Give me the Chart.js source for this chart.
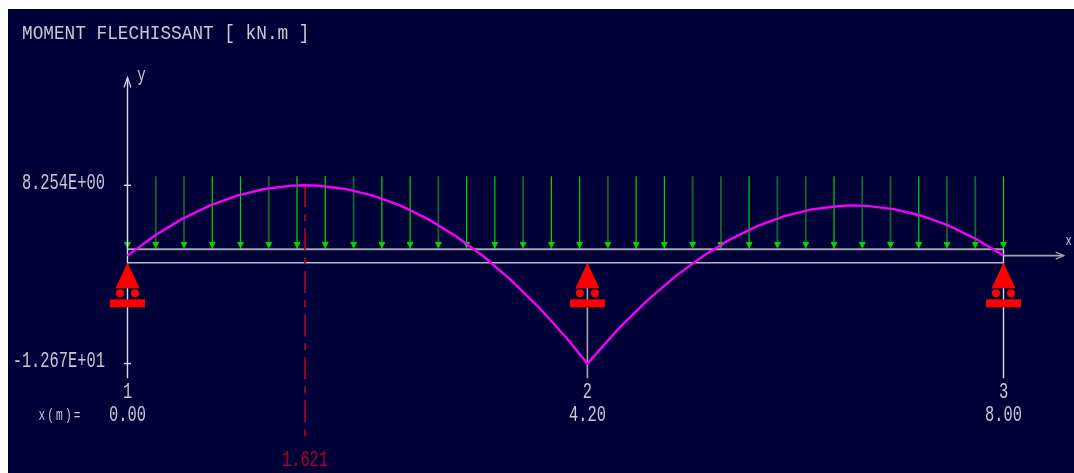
<!DOCTYPE html>
<html><head><meta charset="utf-8">
<style>html,body{margin:0;padding:0;background:#fff;overflow:hidden}
canvas{position:absolute;left:8px;top:9px;background:#000038}</style>
<script src="https://cdn.jsdelivr.net/npm/chart.js@4"></script></head>
<body><canvas id="c" width="1066" height="464"></canvas>
<script>
const titleText = 'MOMENT FLECHISSANT [ kN.m ]';
const spanOneX = [0,0.25,0.5,0.75,1,1.25,1.5,1.621,1.75,2,2.25,2.5,2.75,3,3.25,3.5,3.75,4,4.2];
const spanOneM = [0,2.35,4.31,5.87,7.04,7.82,8.21,8.254,8.2,7.8,7.01,5.83,4.25,2.28,-0.08,-2.84,-5.98,-9.52,-12.67];
const spanTwoX = [4.5,4.75,5,5.25,5.5,5.75,6,6.25,6.5,6.62,6.75,7,7.25,7.5,7.75,8];
const spanTwoM = [-8.37,-5.22,-2.46,-0.1,1.88,3.45,4.64,5.43,5.83,5.89,5.84,5.46,4.68,3.51,1.95,0];
const loadX = [0,0.258,0.516,0.774,1.032,1.29,1.548,1.806,2.065,2.323,2.581,2.839,3.097,3.355,3.613,3.871,4.129,4.387,4.645,4.903,5.161,5.419,5.677,5.935,6.194,6.452,6.71,6.968,7.226,7.484,7.742,8];
const nodeX = [0,4.2,8];
const nodeNames = ['1','2','3'];
const nodeLabels = ['0.00','4.20','8.00'];
const yTickValues = [8.254,-12.67];
const yTickLabels = ['8.254E+00','-1.267E+01'];
const peakX = 1.621;
const peakLabel = '1.621';

const BRIGHT='#00d800', DARK='#0a6a2c', LIGHT='#d8d8e8', GREY='#a4a4ac', TEXT='#c8c8d6', RED='#ff0000', DRED='#b00024', MAG='#f400f4';
const brightLoads = new Set([0,3,4,6,7,9,10,12,13,15,16,18,19,22,25,28,31]);
const FONT = 'Liberation Mono';

const AXIS_TOP=20.9, AXIS_BOT=-14.4, LOAD_TOP=9.31, LOAD_BASE=0.75, BEAM_BOT=-0.85, HEAD=1.35, PEAK_BOT=-21.4, X_END=8.55;
const seg=(x1,y1,x2,y2)=>[{x:x1,y:y1},{x:x2,y:y2}];
const lineDs=(data,color,width,order,extra)=>Object.assign({type:'line',data,borderColor:color,borderWidth:width,pointRadius:0,order,tension:0,fill:false},extra||{});

const datasets=[
  lineDs(spanOneX.map((x,i)=>({x,y:spanOneM[i]})).concat(spanTwoX.map((x,i)=>({x,y:spanTwoM[i]}))),MAG,2.4,0,{label:'Moment'}),
  lineDs(seg(peakX,8.254,peakX,PEAK_BOT),DRED,1.7,1,{borderDash:[22,7,7,7]}),
  lineDs(seg(0,LOAD_BASE,8,LOAD_BASE),GREY,2,4),
  lineDs(seg(0,BEAM_BOT,8,BEAM_BOT),'#b8b8c4',1.5,4),
  lineDs(seg(0,AXIS_TOP,0,AXIS_BOT),LIGHT,1.4,2),
  lineDs(seg(4.2,BEAM_BOT,4.2,AXIS_BOT),GREY,1.6,3),
  lineDs(seg(8,LOAD_BASE,8,AXIS_BOT),LIGHT,1.4,3),
  lineDs(seg(8,0,X_END,0),GREY,1.6,3),
  {type:'scatter',data:yTickValues.map(v=>({x:0,y:v})),pointStyle:'line',pointRadius:3.5,borderColor:LIGHT,pointBorderColor:LIGHT,pointBorderWidth:1.4,order:2},
  {type:'scatter',data:loadX.map(x=>({x,y:HEAD})),pointStyle:'triangle',pointRotation:180,pointRadius:3.4,
   pointBackgroundColor:loadX.map(()=>'#00d800'),pointBorderColor:loadX.map(()=>'#00d800'),order:5}
];
loadX.forEach((x,i)=>datasets.push(lineDs(seg(x,LOAD_TOP,x,LOAD_BASE),brightLoads.has(i)?BRIGHT:DARK,brightLoads.has(i)?1.2:1.8,6)));

// The reference lettering is tall and narrow: squeeze each label about its own anchor.
const canvas=document.getElementById('c');
const ctx2d=canvas.getContext('2d');
const rawFill=ctx2d.fillText.bind(ctx2d);
ctx2d.fillText=function(t,x,y){
  const sx=t===titleText?0.845:0.7;
  ctx2d.save();ctx2d.translate(x,y);ctx2d.scale(sx,1);rawFill(t,0,0);ctx2d.restore();
};

const drawing={id:'drawing',
  afterLayout(ch){ if(ch.titleBlock) ch.titleBlock.left=14; },
  afterDatasetsDraw(ch){
    const c=ch.ctx,X=ch.scales.x,Y=ch.scales.y;
    c.save();
    c.fillStyle=RED;
    nodeX.forEach(n=>{
      const px=X.getPixelForValue(n), py=Y.getPixelForValue(BEAM_BOT);
      c.beginPath();c.moveTo(px,py);c.lineTo(px+12,py+25.5);c.lineTo(px-12,py+25.5);c.closePath();c.fill();
      [-7.5,7.5].forEach(d=>{c.beginPath();c.arc(px+d,py+30.5,4,0,Math.PI*2);c.fill();});
      c.fillRect(px-17.5,py+36.5,35,8);
    });
    c.strokeStyle=LIGHT;c.lineWidth=1.2;
    const ax=X.getPixelForValue(0), ay=Y.getPixelForValue(AXIS_TOP);
    c.beginPath();c.moveTo(ax-3.5,ay+10);c.lineTo(ax,ay);c.lineTo(ax+3.5,ay+10);c.stroke();
    const bx=X.getPixelForValue(X_END), by=Y.getPixelForValue(0);
    c.strokeStyle=GREY;
    c.beginPath();c.moveTo(bx-8,by-3.5);c.lineTo(bx,by);c.lineTo(bx-8,by+3.5);c.stroke();
    c.fillStyle=TEXT;c.textAlign='center';c.textBaseline='middle';
    c.font='20px "'+FONT+'"';
    c.fillText('y',X.getPixelForValue(0)+14,Y.getPixelForValue(AXIS_TOP)-2);
    c.font='15px "'+FONT+'"';
    c.fillText('x',bx+5,by-15);
    c.font='16px "'+FONT+'"';
    c.letterSpacing='3px';
    c.fillText('x(m)=',X.getPixelForValue(0)-67,Y.getPixelForValue(AXIS_BOT)+37);
    c.restore();
  }};
const noPad=s=>{s.paddingLeft=s.paddingRight=s.paddingTop=s.paddingBottom=0;};

new Chart(canvas,{
  data:{datasets},
  plugins:[drawing],
  options:{
    responsive:false,animation:false,devicePixelRatio:1,
    layout:{padding:0,autoPadding:false},
    plugins:{legend:{display:false},tooltip:{enabled:false},
      title:{display:true,text:titleText,align:'start',color:TEXT,font:{family:FONT,size:21,weight:'normal',lineHeight:1},padding:{top:14,bottom:5}}},
    scales:{
      x:{type:'linear',min:-1.0913,max:8.6438,position:{y:AXIS_BOT},
        border:{display:false},grid:{display:false,tickLength:-3},afterFit:noPad,
        afterBuildTicks(s){s.ticks=nodeX.concat([peakX]).map(value=>({value}));},
        ticks:{autoSkip:false,maxRotation:0,minRotation:0,padding:6,
          font:{family:FONT,size:22,lineHeight:1.03},
          color:c=>c.index===3?DRED:TEXT,
          callback:(v,i)=>i<3?[nodeNames[i],nodeLabels[i]]:['','','',peakLabel]}},
      y:{type:'linear',min:-25.516,max:24.25,position:{x:-0.205},
        border:{display:false},grid:{display:false},afterFit:noPad,
        afterBuildTicks(s){s.ticks=yTickValues.map(value=>({value}));},
        ticks:{autoSkip:false,padding:0,labelOffset:-2,color:TEXT,font:{family:FONT,size:22},
          callback:(v,i)=>yTickLabels[i]}}
    }
  }
});
</script></body></html>
